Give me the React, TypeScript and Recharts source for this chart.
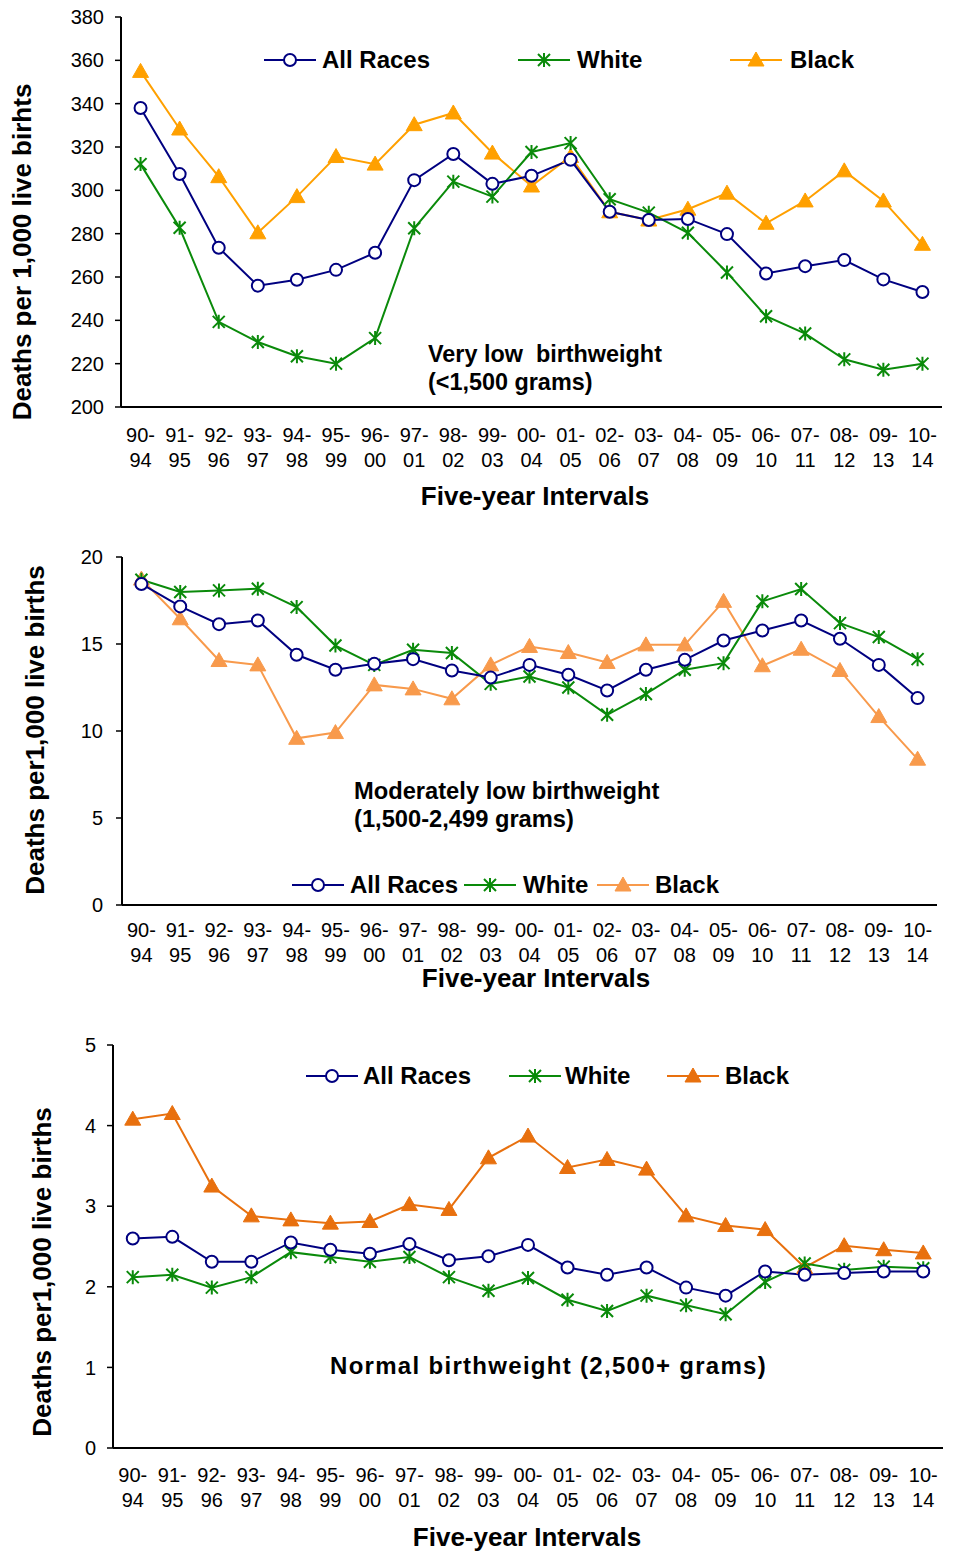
import React from "react";
import { LineChart, Line, XAxis, YAxis } from "recharts";

const categories = ["90-94","91-95","92-96","93-97","94-98","95-99","96-00","97-01","98-02","99-03","00-04","01-05","02-06","03-07","04-08","05-09","06-10","07-11","08-12","09-13","10-14"];

// Very low birthweight (<1,500 grams)
const allRaces1 = [338, 307.5, 273.5, 256, 258.7, 263.3, 271.2, 304.7, 316.8, 303, 306.7, 314.1, 290.1, 286.3, 286.8, 279.8, 261.6, 265, 267.8, 258.9, 253.1];
const white1 = [312.1, 282.7, 239.3, 230, 223.4, 220, 231.8, 282.5, 304, 297.1, 317.7, 321.8, 295.9, 289.7, 280.4, 262.1, 241.9, 233.9, 222, 217.2, 220];
const black1 = [354.9, 328.3, 306.3, 280.4, 297.1, 315.6, 312.1, 330.3, 335.7, 317.2, 302, 315.6, 290.1, 286.3, 291.3, 298.7, 284.8, 295.1, 309, 295.1, 275.1];
const ticks1 = [200, 220, 240, 260, 280, 300, 320, 340, 360, 380];

// Moderately low birthweight (1,500-2,499 grams)
const allRaces2 = [18.45, 17.16, 16.14, 16.35, 14.38, 13.52, 13.86, 14.13, 13.48, 13.07, 13.8, 13.23, 12.33, 13.52, 14.09, 15.2, 15.78, 16.35, 15.3, 13.8, 11.89];
const white2 = [18.69, 17.99, 18.08, 18.18, 17.12, 14.91, 13.8, 14.67, 14.48, 12.71, 13.13, 12.5, 10.93, 12.13, 13.52, 13.9, 17.45, 18.16, 16.2, 15.4, 14.13];
const black2 = [18.73, 16.45, 14.05, 13.8, 9.58, 9.91, 12.65, 12.42, 11.85, 13.8, 14.86, 14.51, 13.94, 14.95, 14.95, 17.45, 13.75, 14.7, 13.48, 10.83, 8.38];
const ticks2 = [0, 5, 10, 15, 20];

// Normal birthweight (2,500+ grams)
const allRaces3 = [2.60, 2.62, 2.31, 2.31, 2.55, 2.46, 2.41, 2.53, 2.33, 2.38, 2.52, 2.24, 2.15, 2.24, 1.99, 1.89, 2.19, 2.15, 2.17, 2.19, 2.19];
const white3 = [2.12, 2.15, 1.99, 2.12, 2.43, 2.37, 2.31, 2.37, 2.12, 1.95, 2.11, 1.84, 1.70, 1.89, 1.77, 1.66, 2.06, 2.29, 2.21, 2.25, 2.23];
const black3 = [4.08, 4.15, 3.25, 2.88, 2.83, 2.79, 2.81, 3.02, 2.96, 3.60, 3.87, 3.48, 3.58, 3.46, 2.88, 2.76, 2.71, 2.24, 2.51, 2.46, 2.42];
const ticks3 = [0, 1, 2, 3, 4, 5];

const edgeTicks = Array.from({ length: categories.length + 1 }, (_, i) => i);

const NAVY = "#000080";
const GREEN = "#0A8A0A";
const FONT = "'Liberation Sans', Arial, sans-serif";

const build = (a: number[], w: number[], b: number[]) =>
  categories.map((c, i) => ({ cat: c, all: a[i], white: w[i], black: b[i] }));

const CircleDot = (p: any) =>
  p.cx == null ? <g key={p.index} /> : (
    <circle key={p.index} cx={p.cx} cy={p.cy} r={6} fill="#fff" stroke={NAVY} strokeWidth={2} />
  );
const StarDot = (p: any) => {
  if (p.cx == null) return <g key={p.index} />;
  const s = 6;
  const { cx, cy } = p;
  return (
    <path key={p.index}
      d={`M${cx - s},${cy - s}L${cx + s},${cy + s}M${cx - s},${cy + s}L${cx + s},${cy - s}M${cx},${cy - s - 1}L${cx},${cy + s + 1}`}
      stroke={GREEN} strokeWidth={2} fill="none" />
  );
};
const makeTri = (color: string) => (p: any) => {
  if (p.cx == null) return <g key={p.index} />;
  const { cx, cy } = p;
  return (
    <polygon key={p.index} points={`${cx},${cy - 8} ${cx + 8},${cy + 6} ${cx - 8},${cy + 6}`} fill={color} stroke={color} strokeWidth={1} />
  );
};

const EmptyTick = () => <g />;

const CatTick = (props: any) => {
  const { x, y, payload, dy1 } = props;
  const [a, b] = String(payload.value).split("-");
  return (
    <text x={x} y={y} textAnchor="middle" fontSize={20} fill="#000" fontFamily={FONT}>
      <tspan x={x} dy={dy1}>{a}-</tspan>
      <tspan x={x} dy={25}>{b}</tspan>
    </text>
  );
};

const LegendMark = ({ kind, color }: { kind: string; color: string }) => (
  <svg width={52} height={20} style={{ display: "block" }}>
    <line x1={0} y1={10} x2={52} y2={10} stroke={color} strokeWidth={2} />
    {kind === "circle" && <circle cx={26} cy={10} r={6} fill="#fff" stroke={color} strokeWidth={2} />}
    {kind === "star" && (
      <path d="M20,4L32,16M20,16L32,4M26,3L26,17" stroke={color} strokeWidth={2} fill="none" />
    )}
    {kind === "tri" && <polygon points="26,2 34,16 18,16" fill={color} stroke={color} />}
  </svg>
);

type LegItem = { kind: string; color: string; label: string; lineX: number; textX: number };

const Legend = ({ y, items }: { y: number; items: LegItem[] }) => (
  <>
    {items.map((it) => (
      <React.Fragment key={it.label}>
        <div style={{ position: "absolute", left: it.lineX, top: y - 10 }}>
          <LegendMark kind={it.kind} color={it.color} />
        </div>
        <div style={{ position: "absolute", left: it.textX, top: y - 14, fontSize: 24, lineHeight: "28px", fontWeight: "bold", whiteSpace: "nowrap" }}>
          {it.label}
        </div>
      </React.Fragment>
    ))}
  </>
);

const YTitle = ({ cx, cy, text }: { cx: number; cy: number; text: string }) => (
  <div style={{ position: "absolute", left: cx, top: cy, transform: "translate(-50%, -50%) rotate(-90deg)", fontSize: 26, fontWeight: "bold", whiteSpace: "nowrap", lineHeight: "28px" }}>
    {text}
  </div>
);

const XTitle = ({ cx, cy, text }: { cx: number; cy: number; text: string }) => (
  <div style={{ position: "absolute", left: cx, top: cy, transform: "translate(-50%, -50%)", fontSize: 26, fontWeight: "bold", whiteSpace: "nowrap", lineHeight: "20px" }}>
    {text}
  </div>
);

type PanelProps = {
  top: number;
  data: any[];
  plotLeft: number;
  plotRight: number;
  plotHeight: number;
  domain: [number, number];
  ticks: number[];
  blackColor: string;
  yTickMargin: number;
  dy1: number;
};

const Panel = ({ top, data, plotLeft, plotRight, plotHeight, domain, ticks, blackColor, yTickMargin, dy1 }: PanelProps) => {
  const W = 956;
  const xh = 70;
  const mt = 17;
  const H = mt + plotHeight + xh;
  return (
    <div style={{ position: "absolute", left: 0, top }}>
      <LineChart width={W} height={H} data={data} margin={{ top: mt, right: W - plotRight, left: 0, bottom: 0 }}>
        <XAxis xAxisId="edges" type="number" domain={[0, categories.length]} ticks={edgeTicks} allowDataOverflow
          tick={EmptyTick} axisLine={false} tickLine={{ stroke: "#000", strokeWidth: 1.5 }} tickSize={6} height={0} />
        <XAxis dataKey="cat" scale="band" interval={0} height={xh} tickLine={false} tickSize={0} tickMargin={0}
          axisLine={{ stroke: "#000", strokeWidth: 2 }} tick={(p: any) => <CatTick {...p} dy1={dy1} />} />
        <XAxis xAxisId="top" dataKey="cat" orientation="top" height={0} tick={false} tickLine={false}
          axisLine={{ stroke: "#000", strokeWidth: 2 }} />
        <YAxis domain={domain} ticks={ticks} width={plotLeft} interval={0} tickSize={6} tickMargin={yTickMargin}
          axisLine={{ stroke: "#000", strokeWidth: 2 }} tickLine={{ stroke: "#000", strokeWidth: 1.5 }}
          tick={{ fontSize: 20, fill: "#000", fontFamily: FONT }} allowDataOverflow />
        <YAxis yAxisId="r" orientation="right" domain={domain} width={0} tick={false} tickLine={false}
          axisLine={{ stroke: "#000", strokeWidth: 2 }} />
        <Line dataKey="black" stroke={blackColor} strokeWidth={2} dot={makeTri(blackColor)} isAnimationActive={false} />
        <Line dataKey="white" stroke={GREEN} strokeWidth={2} dot={StarDot} isAnimationActive={false} />
        <Line dataKey="all" stroke={NAVY} strokeWidth={2} dot={CircleDot} isAnimationActive={false} />
      </LineChart>
    </div>
  );
};

const ORANGE1 = "#FFA000";
const ORANGE2 = "#F89A4C";
const ORANGE3 = "#E8700E";

export default function App() {
  return (
    <div style={{ position: "absolute", left: 0, top: 0, width: 956, height: 1551, background: "#fff", fontFamily: FONT, color: "#000", overflow: "hidden" }}>
      {/* Chart 1 */}
      <Panel top={0} data={build(allRaces1, white1, black1)} plotLeft={121} plotRight={942} plotHeight={390}
        domain={[200, 380]} ticks={ticks1} blackColor={ORANGE1} yTickMargin={11} dy1={35} />
      <YTitle cx={22} cy={252} text="Deaths per 1,000 live birhts" />
      <XTitle cx={535} cy={496} text="Five-year Intervals" />
      <Legend y={60} items={[
        { kind: "circle", color: NAVY, label: "All Races", lineX: 264, textX: 322 },
        { kind: "star", color: GREEN, label: "White", lineX: 518, textX: 577 },
        { kind: "tri", color: ORANGE1, label: "Black", lineX: 730, textX: 790 },
      ]} />
      <div style={{ position: "absolute", left: 428, top: 340, fontSize: 23.4, fontWeight: "bold", lineHeight: "28px", whiteSpace: "pre" }}>
        {"Very low  birthweight\n(<1,500 grams)"}
      </div>

      {/* Chart 2 */}
      <Panel top={540} data={build(allRaces2, white2, black2)} plotLeft={122} plotRight={937} plotHeight={348}
        domain={[0, 20]} ticks={ticks2} blackColor={ORANGE2} yTickMargin={13} dy1={32} />
      <YTitle cx={35} cy={730} text="Deaths per1,000 live births" />
      <XTitle cx={536} cy={978} text="Five-year Intervals" />
      <Legend y={885} items={[
        { kind: "circle", color: NAVY, label: "All Races", lineX: 292, textX: 350 },
        { kind: "star", color: GREEN, label: "White", lineX: 464, textX: 523 },
        { kind: "tri", color: ORANGE2, label: "Black", lineX: 597, textX: 655 },
      ]} />
      <div style={{ position: "absolute", left: 354, top: 777, fontSize: 23.7, fontWeight: "bold", lineHeight: "28px", whiteSpace: "pre" }}>
        {"Moderately low birthweight\n(1,500-2,499 grams)"}
      </div>

      {/* Chart 3 */}
      <Panel top={1028} data={build(allRaces3, white3, black3)} plotLeft={113} plotRight={943} plotHeight={403}
        domain={[0, 5]} ticks={ticks3} blackColor={ORANGE3} yTickMargin={11} dy1={34} />
      <YTitle cx={42} cy={1272} text="Deaths per1,000 live births" />
      <XTitle cx={527} cy={1537} text="Five-year Intervals" />
      <Legend y={1076} items={[
        { kind: "circle", color: NAVY, label: "All Races", lineX: 306, textX: 363 },
        { kind: "star", color: GREEN, label: "White", lineX: 509, textX: 565 },
        { kind: "tri", color: ORANGE3, label: "Black", lineX: 667, textX: 725 },
      ]} />
      <div style={{ position: "absolute", left: 330, top: 1352, fontSize: 24, fontWeight: "bold", lineHeight: "28px", whiteSpace: "pre", letterSpacing: 1.3 }}>
        {"Normal birthweight (2,500+ grams)"}
      </div>
    </div>
  );
}
